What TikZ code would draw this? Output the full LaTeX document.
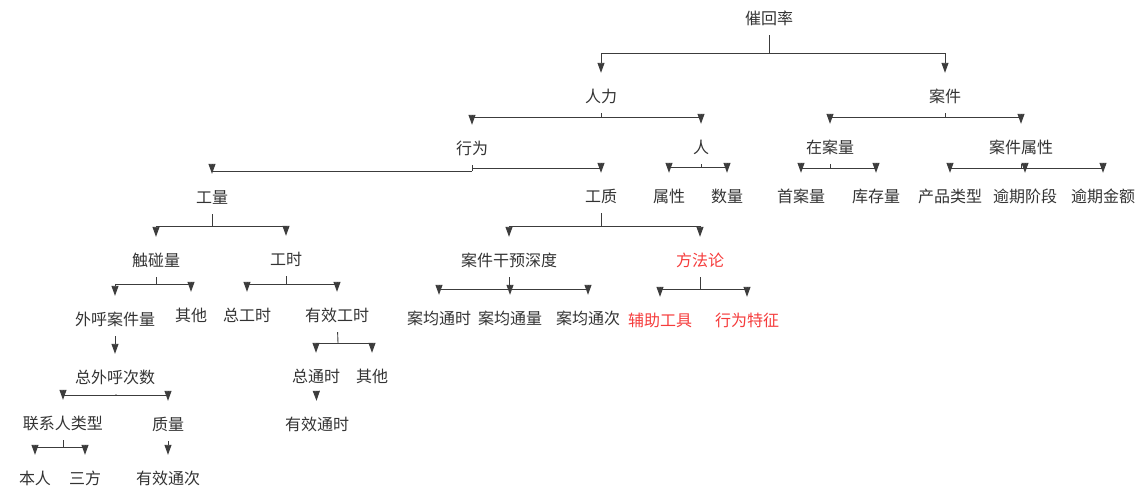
\documentclass[tikz,border=0pt]{standalone}
\usepackage{fontspec}
\usepackage{tikz}
\usetikzlibrary{arrows.meta}
\newfontfamily\cjk{Noto Sans CJK SC}
\definecolor{txtgray}{RGB}{51,51,51}
\definecolor{linegray}{RGB}{60,60,60}
\definecolor{hotred}{RGB}{245,60,60}

\begin{document}
\begin{tikzpicture}[x=1pt, y=-1pt,
    item/.style={font=\cjk\fontsize{16}{18}\selectfont, text=txtgray, inner sep=0pt, minimum height=34pt},
    hot/.style={item, text=hotred},
    link/.style={draw=linegray, line width=0.9pt},
    arr/.style={link, -{Triangle[length=10pt, width=7pt]}, shorten >=6pt}]

    \useasboundingbox (0,0) rectangle (1148,499);

    % Levels 0-1
    \node[item] (cuihui) at (769,18) {催回率};
    \node[item] (renli) at (601,96) {人力};
    \node[item] (anjian) at (945,96) {案件};

    % Level 2
    \node[item] (xingwei) at (472,148) {行为};
    \node[item] (ren) at (701,147) {人};
    \node[item] (zaian) at (830,147) {在案量};
    \node[item] (ajshuxing) at (1021,147) {案件属性};

    % Level 3
    \node[item] (gongliang) at (212,197) {工量};
    \node[item] (gongzhi) at (601,196) {工质};
    \node[item] (shuxing) at (669,196) {属性};
    \node[item] (shuliang) at (727,196) {数量};
    \node[item] (shouan) at (801,196) {首案量};
    \node[item] (kucun) at (876,196) {库存量};
    \node[item] (chanpin) at (950,196) {产品类型};
    \node[item] (yqjieduan) at (1025,196) {逾期阶段};
    \node[item] (yqjine) at (1103,196) {逾期金额};

    % Level 4
    \node[item] (chupeng) at (156,260) {触碰量};
    \node[item] (gongshi) at (286,259) {工时};
    \node[item] (ganyu) at (509,260) {案件干预深度};
    \node[hot] (fangfa) at (700,260) {方法论};

    % Level 5
    \node[item] (waihu) at (115,319) {外呼案件量};
    \node[item] (qita) at (191,315) {其他};
    \node[item] (zonggs) at (247,315) {总工时};
    \node[item] (youxgs) at (337,315) {有效工时};
    \node[item] (ajts) at (439,318) {案均通时};
    \node[item] (ajtl) at (510,318) {案均通量};
    \node[item] (ajtc) at (588,318) {案均通次};
    \node[hot] (fuzhu) at (660,320) {辅助工具};
    \node[hot] (xwtezheng) at (747,320) {行为特征};

    % Level 6
    \node[item] (zongwh) at (115,377) {总外呼次数};
    \node[item] (zongts) at (316,376) {总通时};
    \node[item] (qitab) at (372,376) {其他};

    % Level 7
    \node[item] (lianxi) at (63,423) {联系人类型};
    \node[item] (zhiliang) at (168,424) {质量};
    \node[item] (youxts) at (317,424) {有效通时};

    % Level 8
    \node[item] (benren) at (35,478) {本人};
    \node[item] (sanfang) at (85,478) {三方};
    \node[item] (youxtc) at (168,478) {有效通次};

    % Bars under each parent
    \coordinate (cuihuibar) at (769,53);
    \coordinate (renlibar) at (601,117);
    \coordinate (anjianbar) at (945,117);
    \coordinate (xingweibarL) at (472,171);
    \coordinate (xingweibarR) at (472,168);
    \coordinate (renbar) at (701,167);
    \coordinate (zaianbar) at (830,168);
    \coordinate (ajshuxingbar) at (1021,168);
    \coordinate (gongliangbar) at (212,226);
    \coordinate (gongzhibar) at (601,226);
    \coordinate (chupengbar) at (156,284);
    \coordinate (gongshibar) at (286,284);
    \coordinate (ganyubar) at (509,289);
    \coordinate (fangfabar) at (700,289);
    \coordinate (youxgsbar) at (338,343);
    \coordinate (zongwhbar) at (116,395);
    \coordinate (lianxibar) at (63,447);

    % Connectors
    \draw[link] (cuihui) -- (cuihuibar);
    \draw[arr] (cuihuibar) -| (renli.north);
    \draw[arr] (cuihuibar) -| (anjian.north);

    \draw[link] (renli) -- (renlibar);
    \draw[arr] (renlibar) -| (xingwei.north);
    \draw[arr] (renlibar) -| (ren.north);

    \draw[link] (anjian) -- (anjianbar);
    \draw[arr] (anjianbar) -| (zaian.north);
    \draw[arr] (anjianbar) -| (ajshuxing.north);

    \draw[link] (xingwei) -- (xingweibarL);
    \draw[arr] (xingweibarL) -| (gongliang.north);
    \draw[arr] (xingweibarR) -| (gongzhi.north);

    \draw[link] (ren) -- (renbar);
    \draw[arr] (renbar) -| (shuxing.north);
    \draw[arr] (renbar) -| (shuliang.north);

    \draw[link] (zaian) -- (zaianbar);
    \draw[arr] (zaianbar) -| (shouan.north);
    \draw[arr] (zaianbar) -| (kucun.north);

    \draw[link] (ajshuxing) -- (ajshuxingbar);
    \draw[arr] (ajshuxingbar) -| (chanpin.north);
    \draw[arr] (ajshuxingbar) -| (yqjieduan.north);
    \draw[arr] (ajshuxingbar) -| (yqjine.north);

    \draw[link] (gongliang) -- (gongliangbar);
    \draw[arr] (gongliangbar) -| (chupeng.north);
    \draw[arr] (gongliangbar) -| (gongshi.north);

    \draw[link] (gongzhi) -- (gongzhibar);
    \draw[arr] (gongzhibar) -| (ganyu.north);
    \draw[arr] (gongzhibar) -| (fangfa.north);

    \draw[link] (chupeng) -- (chupengbar);
    \draw[arr] (chupengbar) -| (waihu.north);
    \draw[arr] (chupengbar) -| (qita.north);

    \draw[link] (gongshi) -- (gongshibar);
    \draw[arr] (gongshibar) -| (zonggs.north);
    \draw[arr] (gongshibar) -| (youxgs.north);

    \draw[link] (ganyu) -- (ganyubar);
    \draw[arr] (ganyubar) -| (ajts.north);
    \draw[arr] (ganyubar) -| (ajtl.north);
    \draw[arr] (ganyubar) -| (ajtc.north);

    \draw[link] (fangfa) -- (fangfabar);
    \draw[arr] (fangfabar) -| (fuzhu.north);
    \draw[arr] (fangfabar) -| (xwtezheng.north);

    \draw[link] (youxgs) -- (youxgsbar);
    \draw[arr] (youxgsbar) -| (zongts.north);
    \draw[arr] (youxgsbar) -| (qitab.north);

    \draw[arr] (waihu) -- (zongwh);

    \draw[link] (zongwh) -- (zongwhbar);
    \draw[arr] (zongwhbar) -| (lianxi.north);
    \draw[arr] (zongwhbar) -| (zhiliang.north);

    \draw[arr] (zongts) -- (youxts);

    \draw[link] (lianxi) -- (lianxibar);
    \draw[arr] (lianxibar) -| (benren.north);
    \draw[arr] (lianxibar) -| (sanfang.north);

    \draw[arr] (zhiliang) -- (youxtc);
\end{tikzpicture}
\end{document}
